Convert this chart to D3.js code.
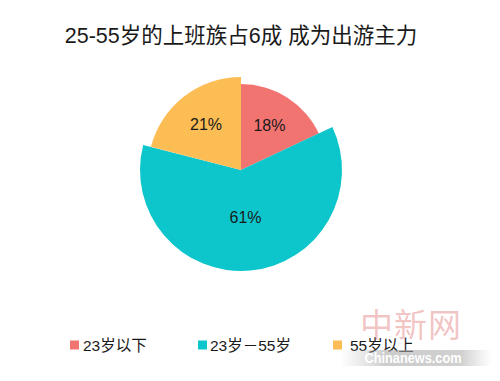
<!DOCTYPE html>
<html><head><meta charset="utf-8">
<script src="https://cdn.jsdelivr.net/npm/d3@7"></script>
<style>
html,body{margin:0;padding:0;background:#fff;}
svg{display:block;}
text{font-family:"Liberation Sans","Noto Sans CJK SC",sans-serif;}
</style></head>
<body>
<svg id="chart" width="500" height="381"></svg>
<script>
const title = "25-55岁的上班族占6成 成为出游主力";
const categories = ["23岁以下", "23岁－55岁", "55岁以上"];
const values = [18, 61, 21];
const labels = ["18%", "61%", "21%"];
const colors = ["#F17471", "#0CC6CC", "#FCBD55"];

const svg = d3.select("#chart");
const cx = 241, cy = 170;
const outerR = [86, 101, 93];
const labelR = [53, 48, 57];

svg.append("text").attr("x", 241).attr("y", 43)
  .attr("text-anchor", "middle").attr("font-size", 21.5).attr("fill", "#1a1a1a")
  .text(title);

const pie = d3.pie().sort(null).value(d => d)(values);
const g = svg.append("g").attr("transform", `translate(${cx},${cy})`);
g.selectAll("path").data(pie).enter().append("path")
  .attr("d", (d, i) => d3.arc().innerRadius(0).outerRadius(outerR[i])(d))
  .attr("fill", (d, i) => colors[i]);
g.selectAll("text.lbl").data(pie).enter().append("text").attr("class", "lbl")
  .attr("transform", (d, i) => `translate(${d3.arc().innerRadius(labelR[i]).outerRadius(labelR[i]).centroid(d)})`)
  .attr("text-anchor", "middle").attr("dominant-baseline", "central")
  .attr("font-size", 16).attr("fill", "#1a1a1a")
  .text((d, i) => labels[i]);

// legend
const legX = [70, 198, 333];
const legTX = [83, 210, 350];
const lg = svg.append("g");
categories.forEach((c, i) => {
  lg.append("rect").attr("x", legX[i]).attr("y", 340.5).attr("width", 9).attr("height", 9).attr("fill", colors[i]);
  lg.append("text").attr("x", legTX[i]).attr("y", 345).attr("dominant-baseline", "central")
    .attr("font-size", 15.5).attr("fill", "#1a1a1a").text(c);
});

// watermark
const defs = svg.append("defs");
const grad = defs.append("linearGradient").attr("id", "wm").attr("x1", "0").attr("x2", "1");
grad.append("stop").attr("offset", "0").attr("stop-color", "#bbb").attr("stop-opacity", 0);
grad.append("stop").attr("offset", "0.3").attr("stop-color", "#aaa").attr("stop-opacity", 0.6);
grad.append("stop").attr("offset", "0.8").attr("stop-color", "#aaa").attr("stop-opacity", 0.55);
grad.append("stop").attr("offset", "1").attr("stop-color", "#bbb").attr("stop-opacity", 0);
svg.append("text").attr("x", 411).attr("y", 337).attr("text-anchor", "middle")
  .attr("font-size", 33).attr("font-family", "'Noto Sans CJK SC'")
  .attr("fill", "rgba(215,70,70,0.33)").attr("letter-spacing", 1).text("中新网");
svg.append("rect").attr("x", 340).attr("y", 350).attr("width", 152).attr("height", 16).attr("fill", "url(#wm)");
svg.append("text").attr("x", 413).attr("y", 363).attr("text-anchor", "middle")
  .attr("font-size", 14).attr("font-weight", "bold").attr("font-family", "'Liberation Sans Narrow','Liberation Sans',sans-serif")
  .attr("fill", "#fff").attr("textLength", 97).attr("lengthAdjust", "spacingAndGlyphs").text("Chinanews.com");
</script>
</body></html>
